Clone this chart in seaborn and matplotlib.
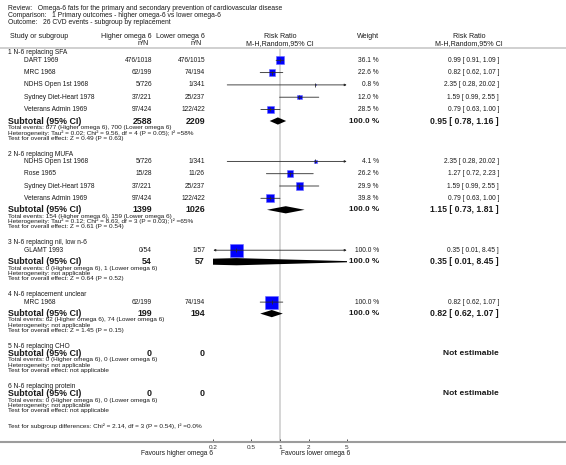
import matplotlib
matplotlib.use("Agg")
import matplotlib.pyplot as plt
from matplotlib.lines import Line2D
from matplotlib.ticker import NullLocator
import seaborn as sns
import pandas as pd

# ---------------- data ----------------
review = "Omega-6 fats for the primary and secondary prevention of cardiovascular disease"
comparison = "1 Primary outcomes - higher omega-6 vs lower omega-6"
outcome = "26 CVD events - subgroup by replacement"

group_names = ["1 N-6 replacing SFA", "2 N-6 replacing MUFA", "3 N-6 replacing nil, low n-6",
               "4 N-6 replacement unclear", "5 N-6 replacing CHO", "6 N-6 replacing protein"]

study_group = [0, 0, 0, 0, 0, 1, 1, 1, 1, 2, 3]
study_names = ["DART 1969", "MRC 1968", "NDHS Open 1st 1968", "Sydney Diet-Heart 1978",
               "Veterans Admin 1969", "NDHS Open 1st 1968", "Rose 1965", "Sydney Diet-Heart 1978",
               "Veterans Admin 1969", "GLAMT 1993", "MRC 1968"]
high_events = [476, 62, 5, 37, 97, 5, 15, 37, 97, 0, 62]
high_total = [1018, 199, 726, 221, 424, 726, 28, 221, 424, 54, 199]
low_events = [476, 74, 1, 25, 122, 1, 11, 25, 122, 1, 74]
low_total = [1015, 194, 341, 237, 422, 341, 26, 237, 422, 57, 194]
study_weight = [36.1, 22.6, 0.8, 12.0, 28.5, 4.1, 26.2, 29.9, 39.8, 100.0, 100.0]
study_rr = [0.99, 0.82, 2.35, 1.59, 0.79, 2.35, 1.27, 1.59, 0.79, 0.35, 0.82]
study_lo = [0.91, 0.62, 0.28, 0.99, 0.63, 0.28, 0.72, 0.99, 0.63, 0.01, 0.62]
study_hi = [1.09, 1.07, 20.02, 2.55, 1.00, 20.02, 2.23, 2.55, 1.00, 8.45, 1.07]

sub_high_total = [2588, 1399, 54, 199, 0, 0]
sub_low_total = [2209, 1026, 57, 194, 0, 0]
sub_high_events = [677, 154, 0, 62, 0, 0]
sub_low_events = [700, 159, 1, 74, 0, 0]
sub_rr = [0.95, 1.15, 0.35, 0.82, None, None]
sub_lo = [0.78, 0.73, 0.01, 0.62, None, None]
sub_hi = [1.16, 1.81, 8.45, 1.07, None, None]
heterogeneity = ["Tau\u00b2 = 0.02; Chi\u00b2 = 9.56, df = 4 (P = 0.05); I\u00b2 =58%",
                 "Tau\u00b2 = 0.12; Chi\u00b2 = 8.63, df = 3 (P = 0.03); I\u00b2 =65%",
                 "not applicable", "not applicable", "not applicable", "not applicable"]
overall_effect = ["Z = 0.49 (P = 0.63)", "Z = 0.61 (P = 0.54)", "Z = 0.64 (P = 0.52)",
                  "Z = 1.45 (P = 0.15)", "not applicable", "not applicable"]
subgroup_diff = "Chi\u00b2 = 2.14, df = 3 (P = 0.54), I\u00b2 =0.0%"
tick_values = [0.2, 0.5, 1, 2, 5]
tick_labels = ["0.2", "0.5", "1", "2", "5"]
left_label = "Favours higher omega 6"
right_label = "Favours lower omega 6"

# ---------------- layout (pixels of a 566x465 image) ----------------
W, H = 566, 465
X_LEFT, X_INDENT = 8, 24
X_HIGH, X_LOW = 152, 205
X_W, X_RR = 379, 499
X0, X1 = 213.3, 346.7         # positions of 0.2 and 5
Y_TOP, Y_AX = 48.5, 442
XMIN, XMAX = 0.2, 5

sns.set_theme(style="white")
plt.rcParams["font.family"] = ["Liberation Sans", "DejaVu Sans"]
INK = "#1a1a1a"

fig = plt.figure(figsize=(W / 100, H / 100), dpi=100)
fig.patch.set_facecolor("white")


def txt(x, y, s, size=4.8, **kw):
    kw.setdefault("color", INK)
    fig.text(x / W, 1 - y / H, s, fontsize=size, va="center", **kw)


ax = fig.add_axes([X0 / W, 1 - Y_AX / H, (X1 - X0) / W, (Y_AX - Y_TOP) / H])
ax.set_xscale("log")
ax.patch.set_alpha(0)
for s in ax.spines.values():
    s.set_visible(False)
ax.grid(False)
ax.axvline(1, color="#d2d2d2", lw=1.3, zorder=0)

fig.add_artist(Line2D([0, 1], [1 - Y_TOP / H] * 2, color="#c4c4c4", lw=1.1))
fig.add_artist(Line2D([0, 1], [1 - Y_AX / H] * 2, color="#9c9c9c", lw=1.5))

# header
txt(X_LEFT, 9, "Review:   " + review, 4.9)
txt(X_LEFT, 15.5, "Comparison:   " + comparison, 4.9)
txt(X_LEFT, 22, "Outcome:   " + outcome, 4.9)
txt(X_LEFT + 2, 37, "Study or subgroup", 5.1)
txt(X_HIGH, 37, "Higher omega 6", 5.1, ha="right")
txt(X_HIGH - 3, 43.5, "n/N", 5.1, ha="right")
txt(X_LOW, 37, "Lower omega 6", 5.1, ha="right")
txt(X_LOW - 3, 43.5, "n/N", 5.1, ha="right")
txt((X0 + X1) / 2, 37, "Risk Ratio", 5.1, ha="center")
txt((X0 + X1) / 2, 43.5, "M-H,Random,95% CI", 5.1, ha="center")
txt(X_W, 37, "Weight", 5.1, ha="right")
txt(X_RR - 30, 37, "Risk Ratio", 5.1, ha="center")
txt(X_RR - 30, 43.5, "M-H,Random,95% CI", 5.1, ha="center")

# rows
study_y = []
sub_y = []
y = 53
for g, gname in enumerate(group_names):
    txt(X_LEFT, y, gname, 4.8)
    idx = [i for i, sg in enumerate(study_group) if sg == g]
    if idx:
        y += 7.3
        for k, i in enumerate(idx):
            if k:
                y += 12.3
            study_y.append(y)
            txt(X_INDENT, y, study_names[i], 4.8)
            txt(X_HIGH, y, f"{high_events[i]}/{high_total[i]}", 4.8, ha="right")
            txt(X_LOW, y, f"{low_events[i]}/{low_total[i]}", 4.8, ha="right")
            txt(X_W, y, f"{study_weight[i]:.1f} %", 4.8, ha="right")
            txt(X_RR, y, f"{study_rr[i]:.2f} [ {study_lo[i]:.2f}, {study_hi[i]:.2f} ]", 4.8, ha="right")
        y += 11.5
    else:
        y += 7
    sub_y.append(y)
    txt(X_LEFT, y, "Subtotal (95% CI)", 6.4, weight="bold")
    txt(X_HIGH, y, f"{sub_high_total[g]}", 6.4, weight="bold", ha="right")
    txt(X_LOW, y, f"{sub_low_total[g]}", 6.4, weight="bold", ha="right")
    if sub_rr[g] is None:
        txt(X_RR, y, "Not estimable", 6.0, weight="bold", ha="right")
    else:
        txt(X_W, y, "100.0 %", 5.9, weight="bold", ha="right")
        txt(X_RR, y, f"{sub_rr[g]:.2f} [ {sub_lo[g]:.2f}, {sub_hi[g]:.2f} ]", 6.2,
            weight="bold", ha="right")
    y += 6.3
    txt(X_LEFT, y, f"Total events: {sub_high_events[g]} (Higher omega 6), "
                   f"{sub_low_events[g]} (Lower omega 6)", 4.6)
    y += 5.4
    txt(X_LEFT, y, "Heterogeneity: " + heterogeneity[g], 4.6)
    y += 5.4
    txt(X_LEFT, y, "Test for overall effect: " + overall_effect[g], 4.6)
    y += 16 if g < len(group_names) - 1 else 15.5
txt(X_LEFT, y, "Test for subgroup differences: " + subgroup_diff, 4.6)

# study marks
studies = pd.DataFrame({"rr": study_rr, "lo": study_lo, "hi": study_hi,
                        "weight": study_weight, "ypos": study_y})
sns.scatterplot(data=studies, x="rr", y="ypos", size="weight", sizes=(0, 90),
                size_norm=(0, 100), marker="s", color="#0000ff", edgecolor="#6a6aff",
                linewidth=0.4, legend=False, ax=ax, zorder=2)
for r in studies.itertuples():
    lo, hi = max(r.lo, XMIN), min(r.hi, XMAX)
    style = {(False, False): "-", (True, False): "<|-", (False, True): "-|>",
             (True, True): "<|-|>"}[(r.lo < XMIN, r.hi > XMAX)]
    ax.annotate("", xy=(hi, r.ypos), xytext=(lo, r.ypos),
                arrowprops=dict(arrowstyle=style, color="#2a2a2a", lw=0.6,
                                mutation_scale=3, shrinkA=0, shrinkB=0), zorder=3)
    ax.plot([r.rr], [r.ypos], marker="|", ms=2.6, mew=0.6, color="#2a2a2a", zorder=3)

# subtotal diamonds
for g, yy in enumerate(sub_y):
    if sub_rr[g] is None:
        continue
    ax.fill([sub_lo[g], sub_rr[g], sub_hi[g], sub_rr[g]],
            [yy, yy - 3.6, yy, yy + 3.6], color="black", lw=0, zorder=3)

# axis scale and ticks
ax.set_xlim(XMIN, XMAX)
ax.set_ylim(Y_AX, Y_TOP)
ax.set_xticks(tick_values)
ax.set_xticklabels(tick_labels)
ax.xaxis.set_minor_locator(NullLocator())
ax.set_yticks([])
ax.set_xlabel("")
ax.set_ylabel("")
ax.tick_params(axis="x", direction="in", length=2.5, width=0.6, labelsize=4.6,
               pad=2.5, colors="#333333", bottom=True)

txt(X0, 453, left_label, 4.8, ha="right")
txt(281, 453, right_label, 4.8, ha="left")

fig.savefig("out.png", dpi=100)
